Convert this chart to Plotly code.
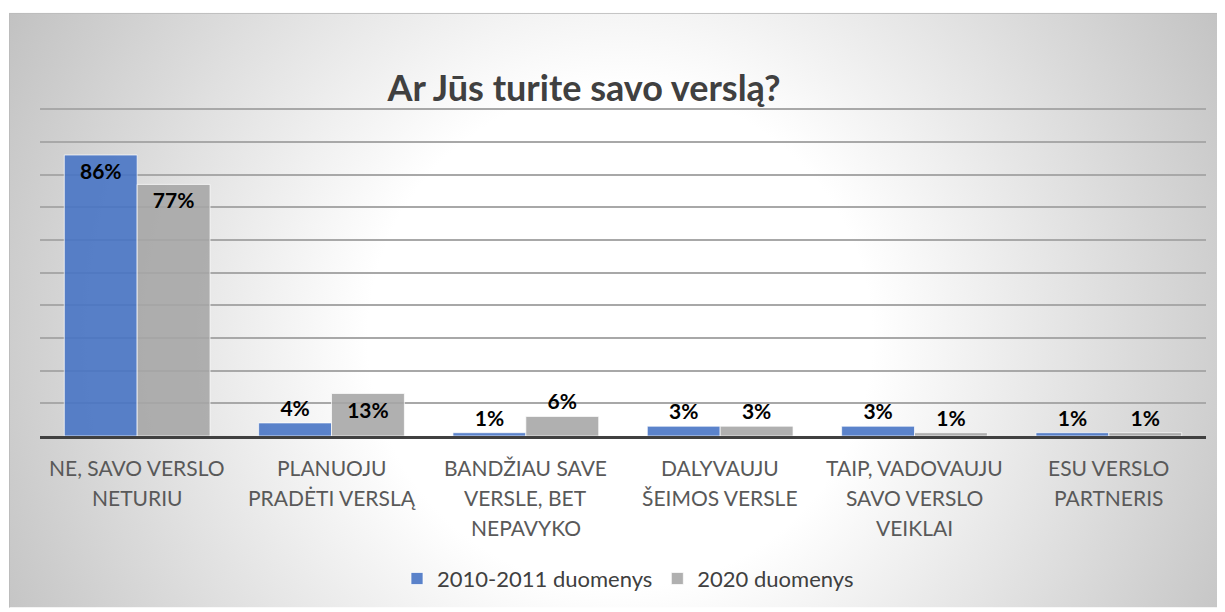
import base64
import plotly.graph_objects as go

# ============================================================
# Data
# ============================================================
categories = [
    "NE, SAVO VERSLO\nNETURIU",
    "PLANUOJU\nPRADĖTI VERSLĄ",
    "BANDŽIAU SAVE\nVERSLE, BET\nNEPAVYKO",
    "DALYVAUJU\nŠEIMOS VERSLE",
    "TAIP, VADOVAUJU\nSAVO VERSLO\nVEIKLAI",
    "ESU VERSLO\nPARTNERIS",
]
series_names = ["2010-2011 duomenys", "2020 duomenys"]
values_2010 = [0.86, 0.04, 0.01, 0.03, 0.03, 0.01]
values_2020 = [0.77, 0.13, 0.06, 0.03, 0.01, 0.01]
title_text = "Ar Jūs turite savo verslą?"

# ============================================================
# Style
# ============================================================
# page body has an 8px margin, so the figure is a bit smaller
# and all reference pixel positions are shifted by OFF
OFF = 8
YMAX = 1.01
W, H = 1225 - OFF, 612 - OFF
ML, MR = 40 - OFF, 1225 - 1206
MB = 612 - 439
MT = H - MB - round(330 * YMAX)
plot_w = W - ML - MR
plot_h = H - MT - MB

FONT = "Lato"
colors = ["rgba(68,114,196,0.88)", "rgba(165,165,165,0.88)"]

# radial gradient background (white centre, grey rim)
bx0, by0 = 9 - OFF, 12 - OFF
bw, bh = W - bx0, H - by0
svg = f"""<svg xmlns='http://www.w3.org/2000/svg' width='{bw}' height='{bh}' viewBox='0 0 {bw} {bh}' preserveAspectRatio='none'>
<defs><radialGradient id='g' gradientUnits='userSpaceOnUse' cx='{620 - 9}' cy='{340 - 12}' r='720'>
<stop offset='0' stop-color='#ffffff'/><stop offset='0.35' stop-color='#ffffff'/><stop offset='1' stop-color='#bebebe'/>
</radialGradient></defs>
<rect x='0' y='0' width='{bw}' height='{bh}' fill='url(#g)'/>
<rect x='0.5' y='0.5' width='{bw + 5}' height='{bh + 5}' fill='none' stroke='#bcbcbc' stroke-width='1'/>
</svg>"""
bg_src = "data:image/svg+xml;base64," + base64.b64encode(svg.encode("utf-8")).decode()

# figure pixel -> paper helpers
def px_x(x):
    return (x - ML) / plot_w

def px_y(y):
    return (H - MB - y) / plot_h

# ============================================================
# Figure
# ============================================================
fig = go.Figure()
for name, vals, col in zip(series_names, [values_2010, values_2020], colors):
    fig.add_trace(go.Bar(
        x=list(range(len(categories))),
        y=vals,
        name=name,
        marker=dict(color=col, line=dict(color="rgba(255,255,255,0.7)", width=1)),
        texttemplate="%{y:.0%}",
        textposition=["inside" if v > 0.1 else "outside" for v in vals],
        insidetextanchor="end",
        textfont=dict(family=FONT, size=21, color="#000000", weight="bold"),
        cliponaxis=False,
    ))

# category labels, one annotation per line (wider line spacing than ticks)
for i, lab in enumerate(categories):
    for j, line in enumerate(lab.split("\n")):
        fig.add_annotation(
            x=i, y=0, xref="x", yref="paper",
            text=line, showarrow=False,
            yanchor="middle", xanchor="center",
            yshift=-(31 + 30 * j),
            font=dict(family=FONT, size=21, color="#595959"),
        )

fig.add_layout_image(dict(
    source=bg_src, xref="paper", yref="paper",
    x=px_x(bx0), y=px_y(by0), sizex=bw / plot_w, sizey=bh / plot_h,
    xanchor="left", yanchor="top", sizing="stretch", layer="below",
))

fig.update_layout(
    width=W, height=H,
    margin=dict(l=ML, r=MR, t=MT, b=MB),
    paper_bgcolor="#ffffff",
    plot_bgcolor="rgba(0,0,0,0)",
    barmode="group",
    bargap=0.25,
    bargroupgap=0,
    title=dict(
        text=title_text, x=(584 - OFF) / W, xanchor="center",
        y=1 - (88 - OFF) / H, yanchor="middle",
        font=dict(family=FONT, size=36, color="#404040", weight="bold"),
    ),
    legend=dict(
        orientation="h", x=px_x(628 - OFF), xanchor="center",
        y=px_y(583 - OFF), yanchor="middle",
        font=dict(family=FONT, size=22, color="#404040"),
        bgcolor="rgba(0,0,0,0)", itemwidth=30,
    ),
    showlegend=True,
)
fig.update_xaxes(
    range=[-0.5, len(categories) - 0.5],
    showticklabels=False, showgrid=False, zeroline=False,
    showline=True, linecolor="#404040", linewidth=3,
)
fig.update_yaxes(
    range=[0, YMAX], tickvals=[i / 10 for i in range(11)],
    showticklabels=False, showgrid=True, gridcolor="#a8a8a8", gridwidth=1.5,
    zeroline=False, showline=False,
)

fig.write_html("out.html")
